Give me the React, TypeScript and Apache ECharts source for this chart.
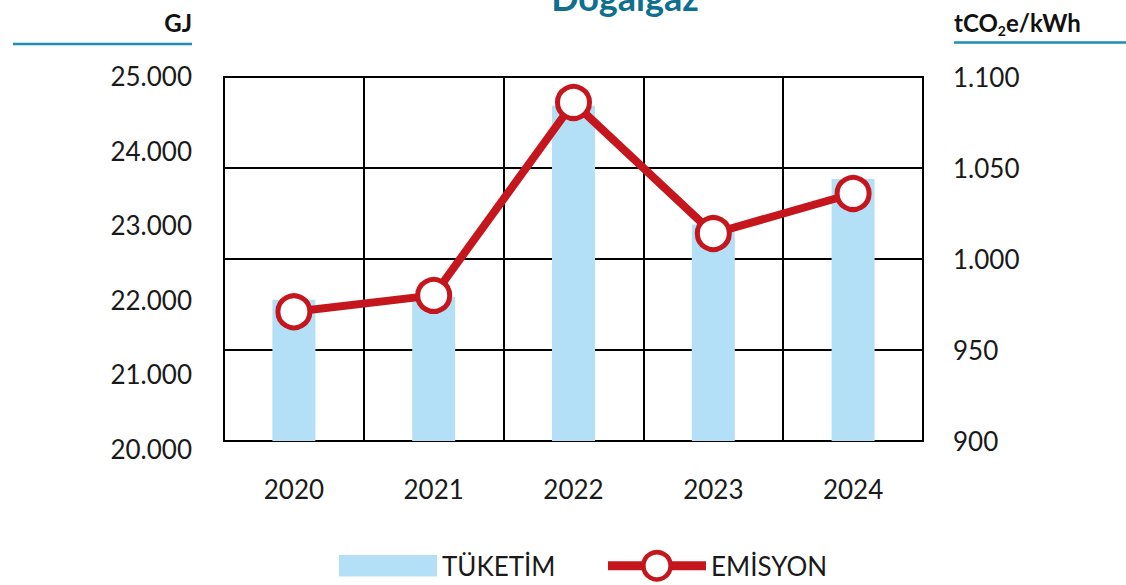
import React, { useEffect, useRef } from "react";
import * as echarts from "echarts";

const years = ["2020", "2021", "2022", "2023", "2024"];
const consumptionGJ = [22000, 22040, 24600, 23010, 23620];
const emissions = [971, 980, 1086, 1014, 1036];
const leftMin = 20000;
const leftMax = 25000;
const leftStep = 1000;
const rightMin = 900;
const rightMax = 1100;
const rightStep = 50;

const FONT = "Lato, 'Open Sans', sans-serif";
const fmt = (v: number) => String(v).replace(/\B(?=(\d{3})+(?!\d))/g, ".");

export default function App() {
  const ref = useRef<HTMLDivElement>(null);
  useEffect(() => {
    if (!ref.current) return;
    const chart = echarts.init(ref.current, null, { renderer: "svg" });
    // geometry: plot box 77..441; left labels spread 76..449
    const plotTop = 77, plotBottom = 441, lblTop = 76, lblBottom = 449;
    const H = 585;
    const barAxisMin = leftMin + ((lblBottom - plotBottom) / (lblBottom - lblTop)) * (leftMax - leftMin);
    const barAxisMax = leftMax - ((plotTop - lblTop) / (lblBottom - lblTop)) * (leftMax - leftMin);
    chart.setOption({
      animation: false,
      textStyle: { fontFamily: FONT },
      grid: [
        { left: 224, right: 203, top: plotTop, bottom: H - plotBottom, show: true, borderColor: "#000", borderWidth: 2, backgroundColor: "transparent" },
        { left: 224, right: 203, top: lblTop, bottom: H - lblBottom, show: false },
      ],
      xAxis: [
        {
          type: "category", data: years, gridIndex: 0,
          axisLine: { show: true, lineStyle: { color: "#000", width: 2 } },
          axisTick: { show: false },
          axisLabel: { color: "#1a1a1a", fontSize: 26, margin: 35, fontFamily: FONT },
          splitLine: { show: true, lineStyle: { color: "#000", width: 2 } },
        },
        { type: "category", data: years, gridIndex: 1, show: false },
      ],
      yAxis: [
        {
          type: "value", gridIndex: 1, position: "left", min: leftMin, max: leftMax, interval: leftStep,
          axisLine: { show: false }, axisTick: { show: false }, splitLine: { show: false },
          axisLabel: { color: "#1a1a1a", fontSize: 26, margin: 32, fontFamily: FONT, formatter: (v: number) => fmt(v) },
        },
        {
          type: "value", gridIndex: 0, position: "right", min: rightMin, max: rightMax, interval: rightStep,
          axisLine: { show: false }, axisTick: { show: false },
          splitLine: { show: true, lineStyle: { color: "#000", width: 2 } },
          axisLabel: { color: "#1a1a1a", fontSize: 26, margin: 30, fontFamily: FONT, formatter: (v: number) => fmt(v) },
        },
        {
          type: "value", gridIndex: 0, show: false, min: barAxisMin, max: barAxisMax,
          splitLine: { show: false },
        },
      ],
      legend: {
        left: 334, top: 545, itemWidth: 98, itemHeight: 34, itemGap: 48, symbolKeepAspect: true,
        textStyle: { color: "#1a1a1a", fontSize: 26, fontFamily: FONT },
        data: [
          { name: "TÜKETİM", icon: "path://M0,0H91V20H0Z" },
          { name: "EMİSYON", lineStyle: { width: 9, color: "#C4161C" }, itemStyle: { borderWidth: 4.5, borderColor: "#C4161C", color: "#fff" } },
        ],
      },
      series: [
        {
          name: "TÜKETİM", type: "bar", data: consumptionGJ, xAxisIndex: 0, yAxisIndex: 2,
          barWidth: 43, itemStyle: { color: "#B3E0F6" }, z: 2,
        },
        {
          name: "EMİSYON", type: "line", data: emissions, xAxisIndex: 0, yAxisIndex: 1,
          symbol: "circle", symbolSize: 32, showAllSymbol: true,
          lineStyle: { color: "#C4161C", width: 8 },
          itemStyle: { color: "#fff", borderColor: "#C4161C", borderWidth: 5 },
          z: 5,
        },
      ],
      graphic: [
        { type: "text", style: { text: "Doğalgaz", x: 625, y: 15, textAlign: "center", textVerticalAlign: "bottom", font: `bold 36px ${FONT}`, fill: "#0E6F8E" } },
        { type: "text", style: { text: "GJ", x: 192, y: 22, textAlign: "right", textVerticalAlign: "middle", font: `bold 24px ${FONT}`, fill: "#111" } },
        { type: "line", shape: { x1: 13, y1: 44, x2: 192, y2: 44 }, style: { stroke: "#1E8FB0", lineWidth: 2.5 } },
        {
          type: "text",
          style: {
            text: "{a|tCO}{s|2}{a|e/kWh}", x: 954, y: 22, textAlign: "left", textVerticalAlign: "middle",
            rich: {
              a: { font: `bold 24px ${FONT}`, fill: "#111", lineHeight: 30, verticalAlign: "middle" },
              s: { font: `bold 14px ${FONT}`, fill: "#111", lineHeight: 20, verticalAlign: "bottom" },
            },
          },
        },
        { type: "line", shape: { x1: 954, y1: 42.5, x2: 1126, y2: 42.5 }, style: { stroke: "#1E8FB0", lineWidth: 2.5 } },
      ],
    });
    return () => chart.dispose();
  }, []);
  return <div ref={ref} style={{ width: 1126, height: 585, position: "absolute", left: 0, top: 0 }} />;
}
